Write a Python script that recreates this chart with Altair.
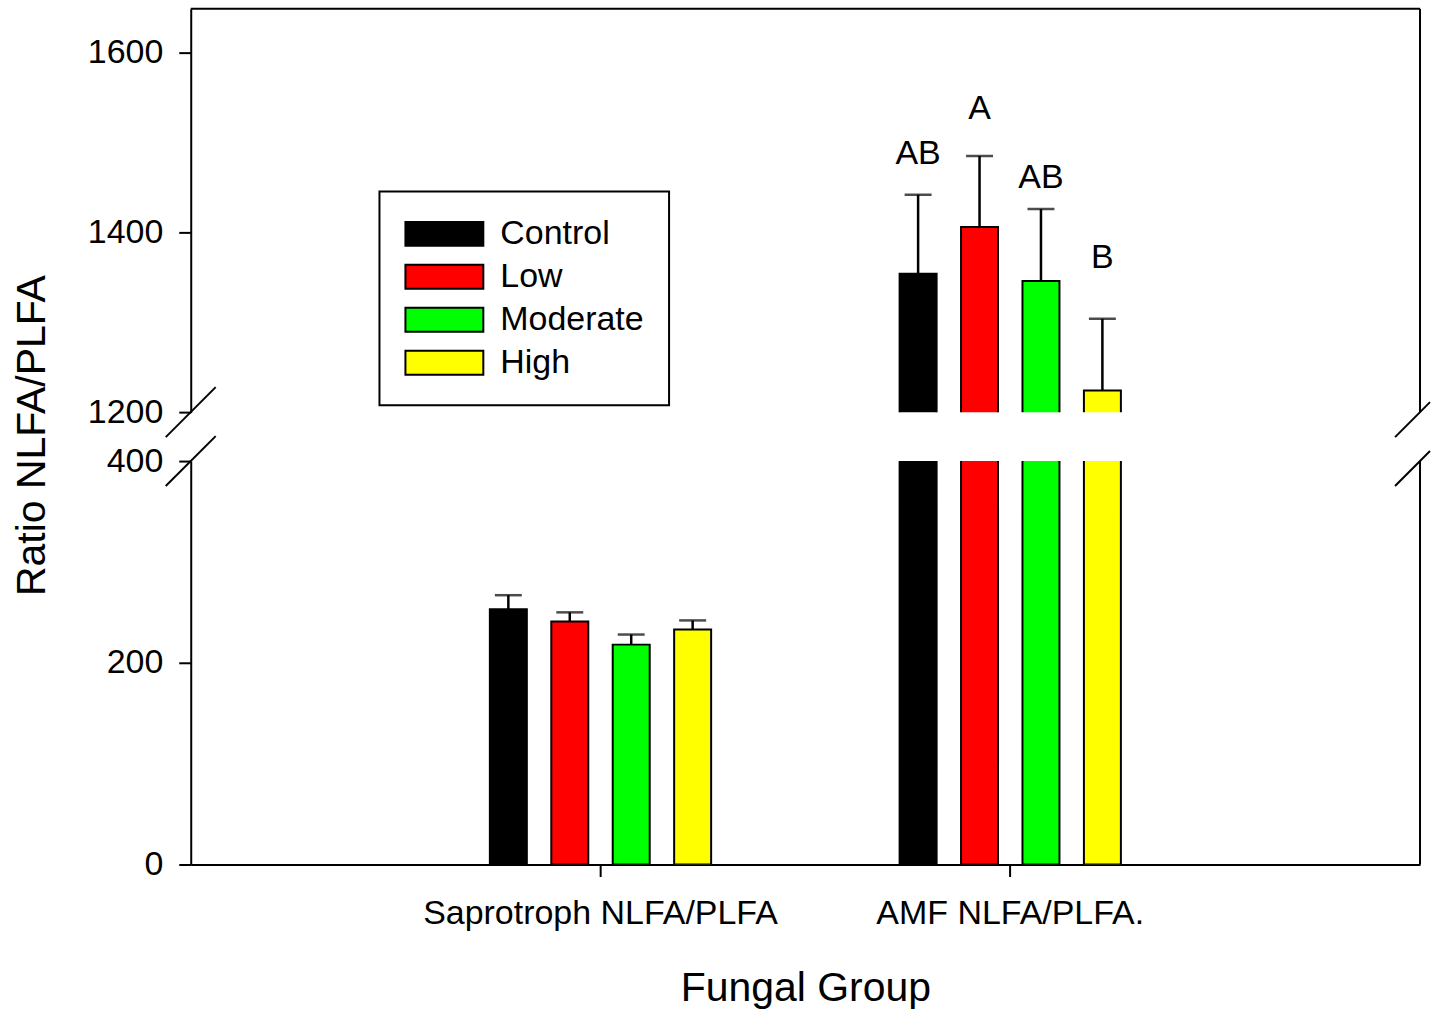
import altair as alt
import pandas as pd

# Categories
groups = ["Saprotroph NLFA/PLFA", "AMF NLFA/PLFA."]
treatments = ["Control", "Low", "Moderate", "High"]
colors = ["#000000", "#ff0000", "#00ff00", "#ffff00"]

# Means and upper error (SE) per treatment
sap_mean = [253, 241, 218, 233]
sap_err = [14, 9, 10, 9]
amf_mean = [1354, 1406, 1346, 1224]
amf_err = [88, 79, 80, 80]

# Significance letters for the AMF group and the height they sit at
amf_letters = ["AB", "A", "AB", "B"]
amf_letter_y = [1487, 1537, 1461, 1372]

FONT = "Liberation Sans"
W = 1231          # plot width
H_UP = 404        # upper segment (1200 - 1649)
H_LO = 404        # lower segment (0 - 400)
GAP = 49          # axis break

rows = []
for g, means, errs in [(groups[0], sap_mean, sap_err), (groups[1], amf_mean, amf_err)]:
    for t, m, e in zip(treatments, means, errs):
        rows.append({"group": g, "treatment": t, "mean": m, "top": m + e})
bars_df = pd.DataFrame(rows)

letters_df = pd.DataFrame({
    "group": [groups[1]] * 4,
    "treatment": treatments,
    "letter": amf_letters,
    "ly": amf_letter_y,
})

one = pd.DataFrame({"k": [0]})

x_scale = alt.Scale(domain=groups, paddingInner=0.46, paddingOuter=0.73)
off_scale = alt.Scale(domain=treatments, paddingInner=0.398, paddingOuter=0)
color_scale = alt.Scale(domain=treatments, range=colors)

# wide flat swatch for the legend (78 x 24 px at size 33^2), starting at the entry's left edge
SWATCH = "M-1,-0.727H3.727V0.727H-1Z"


def panel(df, y_scale, y_axis, height, x_axis, legend, letters, top_border, break_at_top):
    xo = alt.XOffset("treatment:N", scale=off_scale, sort=treatments)
    if x_axis is None:
        xe = alt.X("group:N", scale=x_scale, sort=groups, axis=None)
    else:
        xe = alt.X("group:N", scale=x_scale, sort=groups, axis=x_axis)

    bars = alt.Chart(df).mark_bar(stroke="black", strokeWidth=2, clip=True).encode(
        x=xe, xOffset=xo,
        y=alt.Y("mean:Q", scale=y_scale, axis=y_axis),
        y2=alt.datum(0),
        color=alt.Color("treatment:N", scale=color_scale, sort=treatments, legend=legend),
    )
    whisk = alt.Chart(df).mark_rule(color="black", strokeWidth=2.5, clip=True).encode(
        x=xe, xOffset=xo, y=alt.Y("mean:Q"), y2="top:Q"
    )
    cap = alt.Chart(df).mark_tick(color="black", thickness=2.5, size=27, clip=True).encode(
        x=xe, xOffset=xo, y=alt.Y("top:Q")
    )
    layers = [bars, whisk, cap]

    if letters is not None:
        layers.append(
            alt.Chart(letters).mark_text(
                font=FONT, fontSize=34, color="black", align="center", baseline="middle"
            ).encode(x=xe, xOffset=xo, y=alt.Y("ly:Q"), text="letter:N")
        )

    # right frame edge
    layers.append(alt.Chart(one).mark_rule(color="black", strokeWidth=2).encode(
        x=alt.value(W), y=alt.value(0), y2=alt.value(height)))
    if top_border:
        layers.append(alt.Chart(one).mark_rule(color="black", strokeWidth=2).encode(
            x=alt.value(0), x2=alt.value(W), y=alt.value(0)))

    # break marks on the left axis and the right edge
    yb = 0 if break_at_top else height
    for x0, x1, y0, y1 in [(-25, 25, yb + 25, yb - 25), (W - 25, W + 10, yb + 25, yb - 10)]:
        layers.append(alt.Chart(one).mark_rule(color="black", strokeWidth=2).encode(
            x=alt.value(x0), x2=alt.value(x1), y=alt.value(y0), y2=alt.value(y1)))

    return alt.layer(*layers).properties(width=W, height=height)


upper = panel(
    bars_df,
    alt.Scale(domain=[1200, 1649], nice=False, zero=False),
    alt.Axis(values=[1200, 1400, 1600], format="d", title="Ratio NLFA/PLFA", titleAngle=270,
             titleX=-158, titleY=427, titleAlign="center", titleBaseline="middle"),
    H_UP,
    None,
    alt.Legend(orient="none", legendX=189, legendY=183, title=None,
               strokeColor="black", fillColor="white", padding=25,
               symbolType=SWATCH, symbolSize=1089,
               symbolStrokeColor="black", symbolStrokeWidth=2, symbolOpacity=1,
               labelFont=FONT, labelFontSize=34, labelColor="black",
               labelOffset=61, rowPadding=8),
    letters_df,
    True,
    False,
)

lower = panel(
    bars_df,
    alt.Scale(domain=[0, 400], nice=False),
    alt.Axis(values=[0, 200, 400], format="d", title=None),
    H_LO,
    alt.Axis(title="Fungal Group", labelAngle=0, labelPadding=20, titlePadding=38, labelLimit=0),
    None,
    None,
    False,
    True,
)

chart = alt.vconcat(upper, lower, spacing=GAP, bounds="flush").resolve_legend(
    color="independent"
).properties(
    padding={"left": 12, "top": 7, "right": 0, "bottom": 0}
).configure_view(strokeWidth=0).configure_axis(
    domainColor="black", domainWidth=2, tickColor="black", tickWidth=2, tickSize=12,
    labelFont=FONT, labelFontSize=34, labelColor="black", labelPadding=16,
    titleFont=FONT, titleFontSize=41, titleColor="black", titleFontWeight="normal",
    grid=False,
).configure_legend(strokeWidth=2)

chart.save("out.html", embed_options={"renderer": "svg", "actions": False})
